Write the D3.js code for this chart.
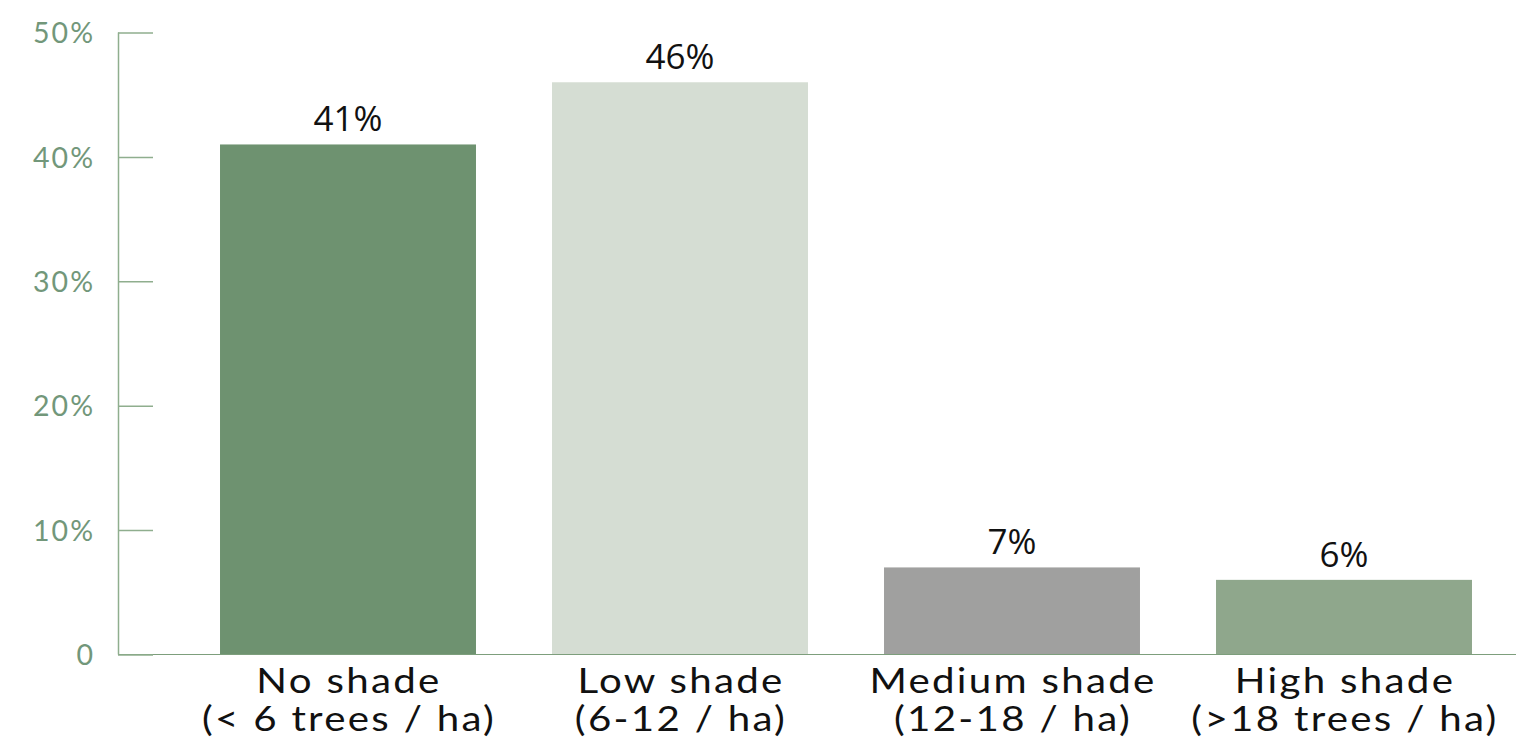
<!DOCTYPE html>
<meta charset="utf-8">
<style>
body { margin: 0; background: #fff; }
.tick text { font-family: "Lato", "Open Sans", sans-serif; }
</style>
<body>
<script src="https://cdn.jsdelivr.net/npm/d3@7"></script>
<script>
var width = 1516,
    height = 744;

// data
var categories = ["No shade", "Low shade", "Medium shade", "High shade"];
var subLabels = ["(< 6 trees / ha)", "(6-12 / ha)", "(12-18 / ha)", "(>18 trees / ha)"];
var shares = [41, 46, 7, 6];
var barColors = ["#6e9270", "#d5ddd3", "#a0a09f", "#8fa78c"];
var yTicks = [0, 10, 20, 30, 40, 50];

var axisColor = "#8fae8e",
    tickTextColor = "#72977a";

var svg = d3.select("body").append("svg")
    .attr("width", width)
    .attr("height", height);

var x = d3.scaleBand()
    .domain(categories)
    .range([182, 1510])
    .paddingInner(0.229)
    .paddingOuter(0.1145);

var y = d3.scaleLinear()
    .domain([0, 50])
    .range([654.5, 32.5]);

// bars
svg.selectAll(".bar")
    .data(shares)
    .enter().append("rect")
    .attr("class", "bar")
    .attr("x", function(d, i) { return x(categories[i]); })
    .attr("width", x.bandwidth())
    .attr("y", function(d) { return y(d); })
    .attr("height", function(d) { return y(0) - y(d); })
    .attr("fill", function(d, i) { return barColors[i]; });

// baseline
svg.append("line")
    .attr("x1", 118).attr("x2", width)
    .attr("y1", y(0)).attr("y2", y(0))
    .attr("stroke", "#7d9e7c")
    .attr("stroke-width", 1.2);

// y axis: ticks point into the plot
var yAxis = d3.axisRight(y)
    .tickValues(yTicks)
    .tickSize(35)
    .tickFormat(function(d) { return d === 0 ? "0" : d + "%"; });

var gy = svg.append("g")
    .attr("transform", "translate(118,0)")
    .call(yAxis);
gy.select(".domain").remove();
gy.append("line")
    .attr("x1", 0.5).attr("x2", 0.5)
    .attr("y1", y(50)).attr("y2", y(0))
    .attr("stroke", axisColor)
    .attr("stroke-width", 1.5);
gy.selectAll(".tick line")
    .attr("stroke", axisColor)
    .attr("stroke-width", 1.5);
gy.selectAll(".tick text")
    .attr("x", -23)
    .attr("dy", "0.36em")
    .attr("text-anchor", "end")
    .attr("fill", tickTextColor)
    .style("font-size", "28.5px")
    .style("letter-spacing", "2px");

// value labels
svg.selectAll(".value")
    .data(shares)
    .enter().append("text")
    .attr("class", "value")
    .attr("x", function(d, i) { return x(categories[i]) + x.bandwidth() / 2; })
    .attr("y", function(d) { return y(d) - 13; })
    .attr("text-anchor", "middle")
    .attr("fill", "#111")
    .style("font-family", "'Open Sans', sans-serif")
    .style("font-size", "35px")
    .text(function(d) { return d + "%"; });

// category labels (stretched a bit to get the wide geometric look)
var cat = svg.selectAll(".cat")
    .data(categories)
    .enter().append("g")
    .attr("class", "cat")
    .attr("transform", function(d) {
        return "translate(" + (x(d) + x.bandwidth() / 2 + 1) + ",0) scale(1.15,1)";
    })
    .append("text")
    .attr("text-anchor", "middle")
    .attr("fill", "#111")
    .style("font-family", "Lato, 'Open Sans', sans-serif")
    .style("font-size", "35px")
    .style("letter-spacing", "2px");
cat.append("tspan")
    .attr("x", 0)
    .attr("y", 693)
    .text(function(d) { return d; });
cat.append("tspan")
    .attr("x", 0)
    .attr("y", 731)
    .text(function(d, i) { return subLabels[i]; });
</script>
</body>
